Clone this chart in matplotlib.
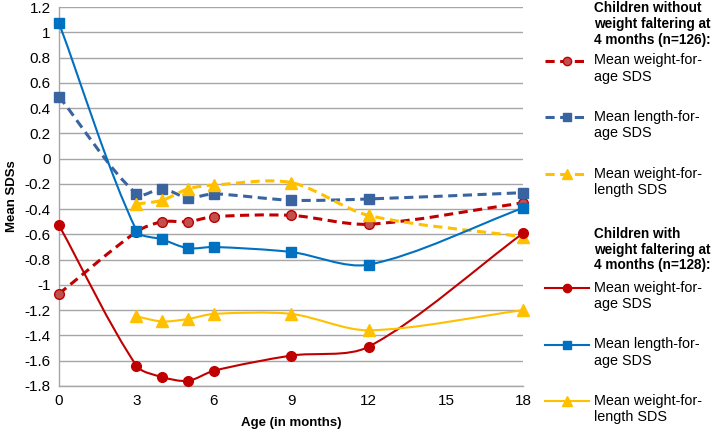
import numpy as np
import matplotlib
matplotlib.use("Agg")
import matplotlib.pyplot as plt
from matplotlib.path import Path
from matplotlib.patches import PathPatch
from matplotlib.lines import Line2D
from matplotlib.legend_handler import HandlerLine2D
from matplotlib.transforms import Affine2D

plt.rcParams['font.family'] = ['Liberation Sans', 'DejaVu Sans']
plt.rcParams['axes.unicode_minus'] = False

# Ages (months) at which SDS were measured
age = [0, 3, 4, 5, 6, 9, 12, 18]
age_wfl = [3, 4, 5, 6, 9, 12, 18]

# Children without weight faltering at 4 months (n=126)
no_wfa = [-1.07, -0.58, -0.50, -0.50, -0.46, -0.45, -0.52, -0.35]
no_lfa = [0.49, -0.28, -0.24, -0.31, -0.28, -0.33, -0.32, -0.27]
no_wfl = [-0.36, -0.33, -0.24, -0.21, -0.19, -0.45, -0.62]

# Children with weight faltering at 4 months (n=128)
wf_wfa = [-0.53, -1.64, -1.73, -1.76, -1.68, -1.56, -1.49, -0.59]
wf_lfa = [1.07, -0.57, -0.64, -0.71, -0.70, -0.74, -0.84, -0.39]
wf_wfl = [-1.25, -1.29, -1.27, -1.23, -1.23, -1.36, -1.20]

labels = ["Mean weight-for-\nage SDS", "Mean length-for-\nage SDS", "Mean weight-for-\nlength SDS"]

red = "#C00000"
red_light = "#C0504D"
navy = "#3A64A0"
blue = "#0070C0"
gold = "#FFC000"

fig = plt.figure(figsize=(7.12, 4.38), dpi=100)
ax = fig.add_axes([0.083, 0.119, 0.652, 0.865])
ax.set_xlim(0, 18)
ax.set_ylim(-1.8, 1.2)


def smooth_line(xs, ys, color, lw, dashed):
    # Excel-like smoothed line: bezier segments built in display space
    pts = ax.transData.transform(np.column_stack([xs, ys]))
    n = len(pts)
    tang = []
    for i in range(n):
        d = pts[min(i + 1, n - 1)] - pts[max(i - 1, 0)]
        tang.append(d / np.hypot(*d))
    verts = [pts[0]]
    codes = [Path.MOVETO]
    for i in range(n - 1):
        seg = np.hypot(*(pts[i + 1] - pts[i])) * 0.3
        verts += [pts[i] + tang[i] * seg, pts[i + 1] - tang[i + 1] * seg, pts[i + 1]]
        codes += [Path.CURVE4] * 3
    verts = ax.transData.inverted().transform(np.array(verts))
    ls = (0, (3, 1.8)) if dashed else '-'
    ax.add_patch(PathPatch(Path(verts, codes), fill=False, edgecolor=color,
                           lw=lw, linestyle=ls, capstyle='butt', zorder=3))


# legend handle sits next to the first line of a two-line label
class TopLineHandler(HandlerLine2D):
    def create_artists(self, legend, orig, xdescent, ydescent, width, height,
                       fontsize, trans):
        arts = super().create_artists(legend, orig, xdescent, ydescent, width,
                                      height, fontsize, trans)
        for a in arts:
            a.set_transform(Affine2D().translate(0, 6) + trans)
        return arts


series = [
    (age, no_wfa, red, red_light, red, 'o', 7, True),
    (age, no_lfa, navy, navy, navy, 's', 6.5, True),
    (age_wfl, no_wfl, gold, gold, gold, '^', 9, True),
    (age, wf_wfa, red, red, red, 'o', 7, False),
    (age, wf_lfa, blue, blue, blue, 's', 6.5, False),
    (age_wfl, wf_wfl, gold, gold, gold, '^', 9, False),
]

handles = []
for xs, ys, lc, fc, ec, mk, ms, dashed in series:
    lw = 2.2 if dashed else 1.5
    smooth_line(xs, ys, lc, lw, dashed)
    ax.plot(xs, ys, ls='none', marker=mk, ms=ms, mfc=fc, mec=ec, mew=1,
            clip_on=False, zorder=4)
    handles.append(Line2D([], [], color=lc, lw=lw,
                          ls=(0, (3, 1.8)) if dashed else '-',
                          marker=mk, ms=ms * 0.85, mfc=fc, mec=ec, mew=1))

ax.set_xticks([0, 3, 6, 9, 12, 15, 18])
ax.set_yticks(np.round(np.arange(-1.8, 1.21, 0.2), 1))
ax.yaxis.set_major_formatter(plt.FuncFormatter(lambda v, p: '%g' % (0 if abs(v) < 1e-9 else v)))
ax.tick_params(length=0, labelsize=11, pad=6)
ax.grid(axis='y', color='#A6A6A6', lw=1)
ax.set_axisbelow(True)
for s in ['top', 'right']:
    ax.spines[s].set_visible(False)
for s in ['left', 'bottom']:
    ax.spines[s].set_color('#A6A6A6')
    ax.spines[s].set_linewidth(1)
ax.set_xlabel("Age (in months)", fontsize=9.5, fontweight='bold', labelpad=6)
ax.set_ylabel("Mean SDSs", fontsize=9.5, fontweight='bold', labelpad=5)

# legends with bold group headers
fig.text(0.834, 0.997, "Children without\nweight faltering at\n4 months (n=126):",
         fontsize=9.8, fontweight='bold', va='top', linespacing=1.15)
fig.text(0.834, 0.482, "Children with\nweight faltering at\n4 months (n=128):",
         fontsize=9.8, fontweight='bold', va='top', linespacing=1.15)

leg_kw = dict(frameon=False, fontsize=10.4, handlelength=3.1, handletextpad=0.3,
              labelspacing=1.83, borderpad=0, borderaxespad=0, loc='upper left',
              bbox_transform=fig.transFigure,
              handler_map={Line2D: TopLineHandler(numpoints=1)})
leg1 = ax.legend(handles[:3], labels, bbox_to_anchor=(0.765, 0.878), **leg_kw)
ax.add_artist(leg1)
ax.legend(handles[3:], labels, bbox_to_anchor=(0.765, 0.359), **leg_kw)

fig.savefig("out.png", dpi=100)
